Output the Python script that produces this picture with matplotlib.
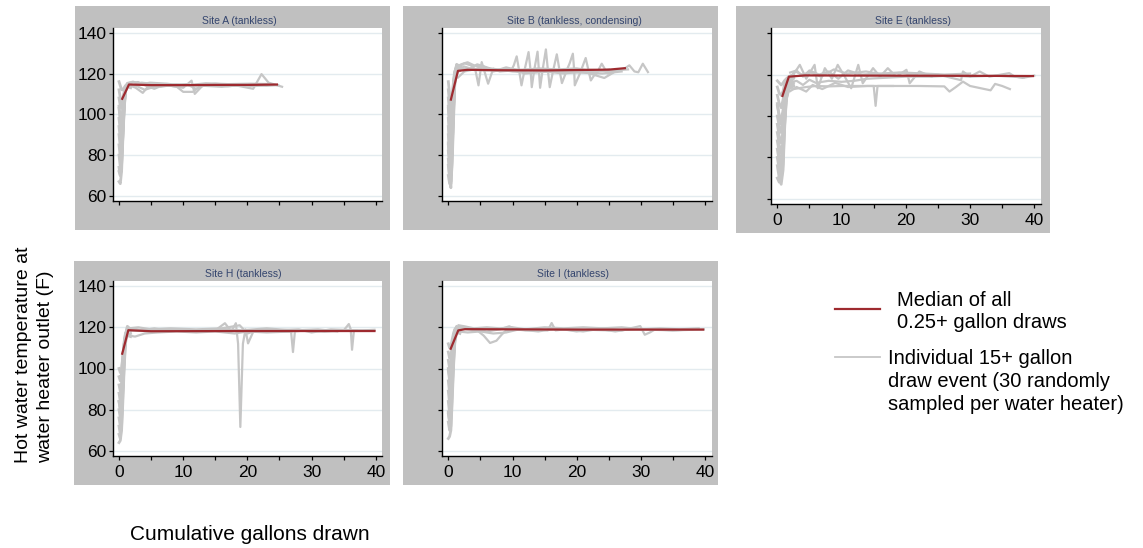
import matplotlib.pyplot as plt
from matplotlib.patches import Rectangle
from matplotlib.lines import Line2D

plt.rcParams['font.family'] = ['Liberation Sans', 'DejaVu Sans']

W, H = 1143, 548

# ---- values: cumulative gallons vs outlet temperature (F) ----
titles = ["Site A (tankless)", "Site B (tankless, condensing)", "Site E (tankless)",
          "Site H (tankless)", "Site I (tankless)"]

x_ticks = [0, 5, 10, 15, 20, 25, 30, 35, 40]
x_tick_labels = ["0", "", "10", "", "20", "", "30", "", "40"]
y_ticks = [60, 80, 100, 120, 140]

# first couple of gallons of each draw (warm-up), shared gallon steps
start_x = [0.0, 0.2, 0.4, 0.6, 0.8, 1.0, 1.3, 1.8]
start_x_e = [0.0, 0.3, 0.6, 0.9, 1.1, 1.4, 1.8, 2.5]

a_start = [[116, 114, 112, 112, 113, 114, 114.5, 114],
           [112, 108, 106, 108, 111, 113.5, 115, 114],
           [108, 104, 103, 106, 110, 113, 114, 114.5],
           [103, 97, 96, 103, 109, 113, 114.5, 114],
           [98, 92, 92, 100, 108, 113, 115, 114],
           [94, 88, 89, 98, 107, 112.5, 114, 113.5],
           [90, 84, 86, 96, 106, 112, 114, 114],
           [85, 79, 82, 94, 105, 112, 115, 114.5],
           [80, 74, 78, 92, 104, 112, 114.5, 114],
           [74, 70, 75, 90, 103, 111.5, 114, 114],
           [67, 66, 72, 88, 102, 111, 114, 114],
           [72, 70, 76, 90, 104, 112, 115, 114.5],
           [104, 98, 97, 102, 109, 113, 113.5, 113]]
a_traces = [
    ([1.8, 2.6, 3.7, 4.5, 6, 8, 10, 11.3, 11.8, 13, 15, 18, 20.9, 22.2, 23.3, 25.4],
     [114, 113, 110.5, 113.5, 114.5, 114, 113, 116.5, 110, 114, 114.5, 114.3, 112.5, 119.7, 115.5, 113.5]),
    ([1.8, 3, 4.2, 5.5, 7, 9, 10, 11.5, 12.5, 14, 17, 20, 23, 24.8],
     [115.5, 115.8, 114, 112.5, 114.5, 113.5, 111, 111, 113.5, 114.5, 113.8, 114.5, 114, 114.3]),
    ([1.5, 2.5, 3.5, 5, 6.5, 8.5, 10.5, 12, 13, 16, 19, 21, 23.5],
     [113.5, 114.5, 115.5, 115, 113.5, 114.5, 114.8, 112.5, 114, 113.5, 114.3, 113.8, 114.5]),
    ([1.6, 2.8, 4, 6, 9, 12, 15, 18, 21.5],
     [114.8, 113.8, 112, 114, 114.6, 114, 115, 114.2, 114.6]),
    ([1.5, 2.2, 3.2, 4.8, 7.5, 10, 13.5, 17, 20.5, 24],
     [115.5, 116, 114.5, 115.5, 115, 114, 115.2, 114.8, 115, 114.8]),
]
a_median_x = [0.5, 1.55, 5, 10, 15, 20, 24.6]
a_median_y = [107.6, 114.6, 114.3, 114.3, 114.4, 114.4, 114.6]

b_start = [[116, 110, 104, 108, 116, 121, 123, 122.5],
           [112, 105, 100, 106, 115, 120.5, 124, 123],
           [108, 100, 96, 104, 114, 120, 123, 122],
           [103, 94, 91, 100, 112, 119.5, 124.5, 123.5],
           [98, 88, 86, 96, 110, 119, 122.5, 123],
           [94, 84, 82, 94, 109, 118.5, 123, 122.5],
           [90, 80, 78, 92, 108, 118, 122, 122],
           [86, 77, 74, 89, 106, 117.5, 124, 123],
           [82, 74, 70, 86, 104, 117, 123, 124],
           [78, 70, 67, 83, 102, 116.5, 122.5, 123],
           [75, 68, 64, 80, 100, 116, 122, 123],
           [70, 66, 66, 76, 96, 114, 121.5, 122.5],
           [85, 80, 74, 84, 102, 118, 123.5, 123],
           [104, 96, 90, 96, 108, 119, 122, 121.5]]
b_traces = [
    ([2, 5, 8, 9.8, 10.2, 10.65, 11.0, 11.4, 11.9, 12.5, 12.8, 13.0, 13.4, 13.9, 14.1, 14.3, 14.7,
      15.2, 15.5, 15.8, 16.3, 16.9, 17.3, 17.7, 18.5, 20, 22, 25, 28],
     [122.5, 122, 121.5, 121.5, 124, 128.4, 122, 114.2, 122, 130.5, 122, 113.3, 122, 130.7, 122, 113.0, 122,
      131.8, 122, 113.3, 121, 129.4, 122, 115.3, 122, 121.5, 121.8, 121.5, 122]),
    ([2, 6, 10, 16, 18.3, 18.9, 19.4, 19.6, 19.7, 20.5, 21.4, 21.8, 22.2, 22.7, 23.1, 23.9, 24.8, 26,
      27.5, 28.2, 29, 29.6, 30.3, 31.1],
     [122, 121.5, 122, 121.5, 120.5, 125, 129.7, 122, 114.2, 120, 127.6, 122, 116.6, 119, 120, 124.8, 120, 121,
      122.5, 124, 121, 120.6, 124.8, 120.7]),
    ([1.5, 2.5, 3.5, 4.2, 4.7, 5.2, 6.2, 7.0, 8, 10, 14, 18, 22, 26],
     [123, 125, 124, 122, 114.2, 125.6, 115, 122.4, 121, 121.5, 122, 121.5, 121, 121.5]),
    ([1.4, 2, 3, 4, 6, 8, 10, 13, 16, 20, 24, 27],
     [120, 124.5, 125.5, 124, 122.5, 122, 121, 120.5, 121, 120.5, 120, 121]),
    ([1.5, 2.5, 4, 5.5, 7, 9, 12, 15, 18, 21, 24.3, 26],
     [118, 121, 122, 123.5, 121, 122.5, 120, 121, 120, 121, 117.8, 121]),
    ([1.6, 2.4, 3.4, 4.5, 6, 7.5, 9, 11, 14, 17, 20, 23, 25],
     [121, 123.5, 122.5, 124.5, 123, 121.5, 123, 121.5, 122.5, 122, 122.5, 121, 122]),
]
b_median_x = [0.4, 1.5, 3, 8, 15, 20, 25, 27.5]
b_median_y = [107.2, 121.3, 121.8, 121.6, 121.5, 121.7, 121.9, 122.6]

e_start = [[117, 116, 115, 116, 117, 118, 119, 119.5],
           [114, 111, 110, 112, 115, 117, 119, 120],
           [110, 106, 104, 108, 112, 116, 118, 119],
           [105, 100, 98, 103, 109, 115, 118.5, 119.5],
           [100, 95, 92, 98, 106, 114, 118, 120],
           [96, 90, 87, 93, 103, 112.5, 117, 118.5],
           [92, 86, 82, 88, 100, 111, 116, 118],
           [88, 82, 77, 84, 98, 110, 115, 116],
           [84, 78, 72, 80, 96, 109, 114, 115],
           [80, 74, 69, 77, 94, 108.5, 113.5, 114.5],
           [76, 70, 67, 74, 92, 108, 113, 114.5],
           [70, 68, 70, 82, 98, 112, 117, 119],
           [106, 100, 96, 100, 108, 114, 117, 118.5]]
e_traces = [
    ([2.5, 4.5, 6, 8, 10, 12, 15, 15.3, 15.6, 18, 22, 26, 26.8, 27.8, 28.9, 30, 33.2, 33.9, 35, 36.2],
     [113, 114, 114.5, 114.3, 114.5, 114.5, 114.5, 104.9, 114.5, 114.5, 114.5, 114.3, 111.8, 114, 116.6, 114.5, 112.4, 115.5, 114.5, 113]),
    ([2, 3, 4.5, 5.5, 7, 9, 11, 14, 18],
     [112, 114, 111.8, 115, 113, 116, 114, 114.5, 114.5]),
    ([2.5, 3.5, 4.5, 5.8, 6.3, 7.4, 8.5, 9.4, 10.5, 11.5, 12.6, 13.3, 14.9, 16, 17.2, 18.5, 20.1, 20.6, 22.1, 24, 27, 30, 34, 38.4],
     [120, 124.7, 118, 124.7, 113.4, 123.1, 118, 124.7, 119, 113.4, 124.7, 115.8, 123.1, 119, 123.1, 119, 122.3, 115.8, 121.5, 119, 119.5, 119, 119.5, 118.7]),
    ([2, 3, 4, 5, 6.5, 8, 9.5, 11, 13, 16, 19, 22, 25, 28.6, 28.9, 30, 31.5, 33, 36.1, 37, 38.2, 40],
     [121, 122, 119, 122, 120, 121.5, 118, 122, 120, 120.5, 121, 119.5, 120, 117.3, 121.5, 119, 121.5, 119, 120.7, 119, 118.4, 119.5]),
    ([1.8, 3, 4, 5, 6, 8, 10, 12, 14, 17, 20, 24],
     [116, 117, 115, 117.5, 116, 117, 116.5, 117, 118, 118.5, 119, 119]),
    ([2, 2.8, 3.8, 5.2, 6.8, 8.8, 10.8, 13.8, 16.5, 19.5, 22.8, 26, 30],
     [118.5, 121.5, 120, 121, 119, 122.5, 120.5, 121.5, 120, 121, 120.5, 120, 120.5]),
]
e_median_x = [0.8, 1.8, 4.3, 15, 30, 39.8]
e_median_y = [109.7, 119, 119.6, 119.5, 119.4, 119.3]

h_start = [[96, 94, 98, 106, 113, 117, 119, 119],
           [92, 89, 93, 103, 111.5, 116.5, 119, 118.5],
           [88, 84, 88, 100, 110, 116, 119.5, 119],
           [84, 80, 84, 97, 108, 115.5, 119, 118.5],
           [80, 76, 80, 94, 106, 115, 119, 118.5],
           [76, 72, 76, 91, 104, 114.5, 119.5, 119],
           [72, 68, 72, 88, 102, 114, 120, 119],
           [64, 65, 70, 84, 100, 112, 118, 118.5],
           [68, 66, 76, 92, 106, 116, 120.5, 119],
           [100, 98, 100, 106, 112, 115, 116, 115.5],
           [84, 80, 84, 96, 108, 114, 116.5, 117]]
h_traces = [
    ([1.8, 4, 7, 10, 13, 15, 16.5, 17.5, 18.2, 18.55, 18.9, 19.3, 19.7, 20.1, 21, 24, 28, 32, 36, 39.5],
     [119, 118.5, 118, 118.5, 118, 118.5, 122, 118, 122, 112, 71.6, 112, 119, 112.2, 118.5, 118, 118.5, 118, 118.5, 118.5]),
    ([1.8, 5, 8, 11, 14, 17, 20, 23, 26, 26.8, 27.1, 27.4, 29, 32, 35, 35.8, 36.1, 36.3, 36.6, 38, 39.8],
     [118.5, 118, 119, 118, 118.5, 119, 118, 118.5, 118, 118, 108, 118, 118.5, 118, 118.5, 121.6, 119, 109.1, 118.5, 118.5, 118.8]),
    ([1.5, 2.5, 4, 6, 9, 12, 15, 18, 20, 23, 27],
     [116, 115.5, 117, 117.5, 118, 117.5, 118, 117, 118, 117.5, 118]),
    ([1.5, 3, 5, 8, 12, 16, 18.8, 20, 22, 24, 28, 30, 33, 37],
     [119.5, 120, 119, 119.5, 119, 119.5, 121, 117, 119, 118.5, 119, 117.5, 119, 118.5]),
    ([1.4, 2.2, 3.5, 5.5, 7.5, 10, 12.5, 15.5, 19, 23, 27, 31, 34],
     [118, 119.5, 118.5, 119.5, 118.5, 119, 118, 119, 118.5, 119.5, 118.5, 119, 118]),
]
h_median_x = [0.5, 1.45, 5, 20, 39.8]
h_median_y = [107.2, 118.6, 118.1, 118.2, 118.2]

i_start = [[112, 110, 111, 114, 117, 119, 120, 119.5],
           [108, 105, 106, 111, 115.5, 118.5, 120, 119],
           [104, 100, 102, 108, 114, 118, 120.5, 119],
           [99, 94, 96, 104, 112, 117, 120, 119.5],
           [94, 88, 90, 100, 110, 116, 119.5, 119],
           [89, 83, 85, 97, 108, 115.5, 119.5, 119],
           [84, 78, 80, 94, 106, 115, 119, 118.5],
           [79, 74, 76, 91, 104, 114.5, 120, 119],
           [74, 70, 72, 88, 102, 114, 120, 119.5],
           [66, 67, 70, 84, 100, 112, 118, 119],
           [78, 74, 80, 96, 108, 116, 120, 120],
           [100, 96, 98, 104, 112, 116, 117.5, 117]]
i_traces = [
    ([1.8, 3, 4.5, 5.5, 6.5, 7.5, 8.3, 9, 11, 13, 16, 20, 25, 30, 35, 39.8],
     [119.5, 119, 118.5, 116, 112.4, 113.5, 116.4, 118.5, 119, 118.5, 119, 119, 118.5, 119, 118.5, 119]),
    ([1.8, 4, 6, 8, 9.5, 10.5, 12, 14, 15.5, 16.1, 16.7, 18, 21, 24, 27, 29.9, 30.6, 31.4, 32.2, 35, 38],
     [120, 119, 118, 119, 120.5, 119, 118.5, 119, 118.5, 122.1, 118.5, 119, 118, 119.5, 118.5, 120.6, 116.4, 117.5, 119, 118.5, 119]),
    ([1.5, 3, 5, 7, 9, 11, 14, 17, 20, 23, 26, 28],
     [118, 117.5, 118, 117, 117.5, 119, 118, 119.5, 118, 119.5, 118, 119]),
    ([1.6, 2.5, 4, 6, 8, 10, 12, 15, 18, 21, 24, 27, 30, 33, 36, 39],
     [121, 120.5, 119.5, 120, 119.5, 120, 119, 120, 119.5, 120, 119.5, 120, 119, 119.5, 119, 119.5]),
]
i_median_x = [0.37, 1.55, 2.6, 20, 39.7]
i_median_y = [109.6, 118.5, 119.1, 118.9, 118.9]

# ---- layout in pixels ----
GREY_LINE = '#c6c6c6'
MEDIAN_RED = '#9e2a2f'
STRIP = '#c0c0c0'
TITLE_COL = '#34456e'

# (box l, t, r, b), (axes l, t, r, b), title x, show x labels, show y labels
layout = [
    ((75, 5.5, 390, 230), (112.6, 27.6, 382.2, 201), 239, False, True),
    ((403, 5.5, 718, 230), (441.9, 27.6, 711.5, 201), 574, False, False),
    ((736, 5.5, 1050, 233), (770.9, 28, 1040.7, 204), 913, True, False),
    ((74, 260.5, 390, 485), (112.6, 281, 382.2, 456), 243, True, True),
    ((403, 260.5, 718, 485), (441.9, 281, 711.5, 456), 573, True, False),
]

panels = [
    (start_x, a_start, a_traces, a_median_x, a_median_y),
    (start_x, b_start, b_traces, b_median_x, b_median_y),
    (start_x_e, e_start, e_traces, e_median_x, e_median_y),
    (start_x, h_start, h_traces, h_median_x, h_median_y),
    (start_x, i_start, i_traces, i_median_x, i_median_y),
]


def fx(x):
    return x / W


def fy(y):
    return 1 - y / H


fig = plt.figure(figsize=(W / 100, H / 100), dpi=100)

for title, (box, axr, tx, xlab, ylab), (sx, srows, traces, mx, my) in zip(titles, layout, panels):
    bl, bt, br, bb = box
    fig.add_artist(Rectangle((fx(bl), fy(bb)), fx(br - bl), (bb - bt) / H,
                             transform=fig.transFigure, facecolor=STRIP,
                             edgecolor='none', zorder=0))
    al, at, ar, ab = axr
    ax = fig.add_axes([fx(al), fy(ab), fx(ar - al), (ab - at) / H])
    ax.set_facecolor('white')
    ax.set_zorder(1)

    for row in srows:
        ax.plot(sx, row, color=GREY_LINE, lw=2.0, solid_joinstyle='round')
    for tx_, ty_ in traces:
        ax.plot(tx_, ty_, color=GREY_LINE, lw=1.6, solid_joinstyle='round')
    ax.plot(mx, my, color=MEDIAN_RED, lw=1.6)

    ax.set_xlim(-1, 41)
    ax.set_ylim(57.5, 142.5)
    ax.set_xticks(x_ticks)
    ax.set_yticks(y_ticks)
    ax.set_xticklabels(x_tick_labels if xlab else [''] * len(x_ticks))
    ax.set_yticklabels([str(v) for v in y_ticks] if ylab else [''] * len(y_ticks))
    ax.tick_params(direction='out', length=3, width=0.9, labelsize=12.5, colors='black')
    ax.tick_params(axis='x', pad=3.5)
    ax.tick_params(axis='y', pad=1.5)
    ax.yaxis.grid(True, color='#e3ebef', lw=1.0)
    ax.set_axisbelow(True)
    for s in ['top', 'right']:
        ax.spines[s].set_visible(False)
    for s in ['left', 'bottom']:
        ax.spines[s].set_linewidth(1.0)
        ax.spines[s].set_color('black')

    fig.text(fx(tx), fy(at - 7), title, ha='center', va='center',
             fontsize=7.5, color=TITLE_COL, zorder=3)

# axis titles
fig.text(fx(23), fy(463), "Hot water temperature at", rotation=90, ha='left',
         va='center', rotation_mode='anchor', fontsize=14)
fig.text(fx(46), fy(463), "water heater outlet (F)", rotation=90, ha='left',
         va='center', rotation_mode='anchor', fontsize=14)
fig.text(fx(250), fy(535), "Cumulative gallons drawn", ha='center', va='center',
         fontsize=15)

# legend
fig.add_artist(Line2D([fx(835), fx(880)], [fy(309), fy(309)], color=MEDIAN_RED,
                      lw=1.6, transform=fig.transFigure))
fig.add_artist(Line2D([fx(835), fx(880)], [fy(357), fy(357)], color=GREY_LINE,
                      lw=1.3, transform=fig.transFigure))
fig.text(fx(897), fy(300), "Median of all", ha='left', va='center', fontsize=14.5)
fig.text(fx(897), fy(323), "0.25+ gallon draws", ha='left', va='center', fontsize=14.5)
fig.text(fx(888), fy(358), "Individual 15+ gallon", ha='left', va='center', fontsize=14.5)
fig.text(fx(888), fy(381.5), "draw event (30 randomly", ha='left', va='center', fontsize=14.5)
fig.text(fx(888), fy(405), "sampled per water heater)", ha='left', va='center', fontsize=14.5)

fig.savefig('out.png', dpi=100)
